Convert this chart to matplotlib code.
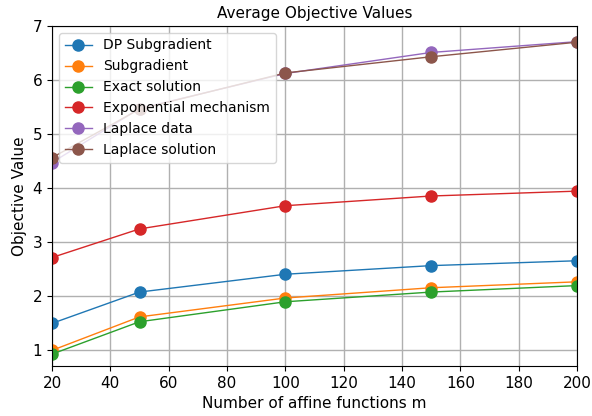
import matplotlib
matplotlib.use("Agg")
import matplotlib.pyplot as plt

m = [20, 50, 100, 150, 200]
dp_subgradient = [1.49, 2.07, 2.40, 2.56, 2.65]
subgradient = [0.99, 1.61, 1.96, 2.15, 2.26]
exact_solution = [0.92, 1.52, 1.89, 2.07, 2.19]
exponential = [2.71, 3.24, 3.67, 3.85, 3.94]
laplace_data = [4.47, 5.47, 6.12, 6.51, 6.71]
laplace_solution = [4.56, 5.46, 6.13, 6.43, 6.70]

series = [
    ("DP Subgradient", dp_subgradient),
    ("Subgradient", subgradient),
    ("Exact solution", exact_solution),
    ("Exponential mechanism", exponential),
    ("Laplace data", laplace_data),
    ("Laplace solution", laplace_solution),
]

fig = plt.figure(figsize=(5.92, 4.16), dpi=100)
ax = fig.add_axes([52/592, 1-366/416, (577-52)/592, (366-26)/416])
for name, vals in series:
    ax.plot(m, vals, marker="o", markersize=8, linewidth=1, label=name)
ax.set_xlim(20, 200)
ax.set_ylim(0.7, 7)
ax.set_xticks([20, 40, 60, 80, 100, 120, 140, 160, 180, 200])
ax.set_yticks([1, 2, 3, 4, 5, 6, 7])
ax.grid(True, color="#b0b0b0", linewidth=1)
ax.set_axisbelow(True)
ax.set_title("Average Objective Values", fontsize=11)
ax.set_xlabel("Number of affine functions m", fontsize=11)
ax.set_ylabel("Objective Value", fontsize=11)
ax.tick_params(labelsize=11)
ax.legend(loc="upper left", fontsize=10)
fig.savefig("out.png", dpi=100)
